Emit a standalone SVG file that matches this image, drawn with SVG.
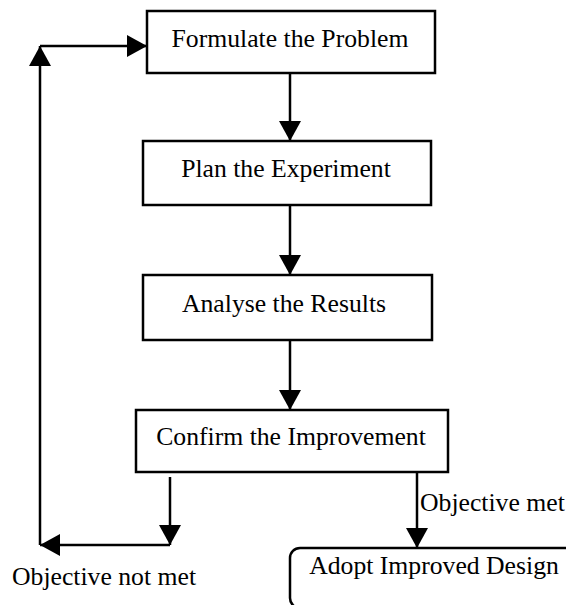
<svg xmlns="http://www.w3.org/2000/svg" width="566" height="605" viewBox="0 0 566 605">
  <defs>
    <marker id="arrow" viewBox="0 0 20 22" refX="20" refY="11" markerWidth="20" markerHeight="22" markerUnits="userSpaceOnUse" orient="auto">
      <path d="M0,0 L20,11 L0,22 Z" fill="#000"/>
    </marker>
    <style>
      .box { fill: #fff; stroke: #000; stroke-width: 2.5; }
      .edge { fill: none; stroke: #000; stroke-width: 2.5; marker-end: url(#arrow); }
      .label { font-family: "Liberation Serif", "Times New Roman", serif; font-size: 25.7px; fill: #000; }
    </style>
  </defs>

  <rect width="566" height="605" fill="#fff"/>

  <g id="connectors">
    <path class="edge" d="M290,73 V141"/>
    <path class="edge" d="M290,205 V275"/>
    <path class="edge" d="M290,340 V410"/>
    <path class="edge" d="M417,472 V548"/>
    <path class="edge" d="M170,477 V545"/>
    <path class="edge" d="M170,545 H40"/>
    <path class="edge" d="M40,545 V46"/>
    <path class="edge" d="M40,46 H147"/>
  </g>

  <g id="formulate">
    <rect class="box" x="147" y="11" width="288" height="62"/>
    <text class="label" x="290" y="47" text-anchor="middle">Formulate the Problem</text>
  </g>

  <g id="plan">
    <rect class="box" x="143" y="141" width="288" height="64"/>
    <text class="label" x="286" y="177" text-anchor="middle">Plan the Experiment</text>
  </g>

  <g id="analyse">
    <rect class="box" x="143" y="275" width="289" height="65"/>
    <text class="label" x="284" y="312" text-anchor="middle">Analyse the Results</text>
  </g>

  <g id="confirm">
    <rect class="box" x="136" y="410" width="312" height="62"/>
    <text class="label" x="291" y="445" text-anchor="middle">Confirm the Improvement</text>
  </g>

  <g id="adopt">
    <rect class="box" x="290" y="548" width="300" height="60" rx="10" ry="10"/>
    <text class="label" x="434" y="574" text-anchor="middle">Adopt Improved Design</text>
  </g>

  <g id="edge-labels">
    <text class="label" x="420" y="511">Objective met</text>
    <text class="label" x="12" y="585">Objective not met</text>
  </g>
</svg>
